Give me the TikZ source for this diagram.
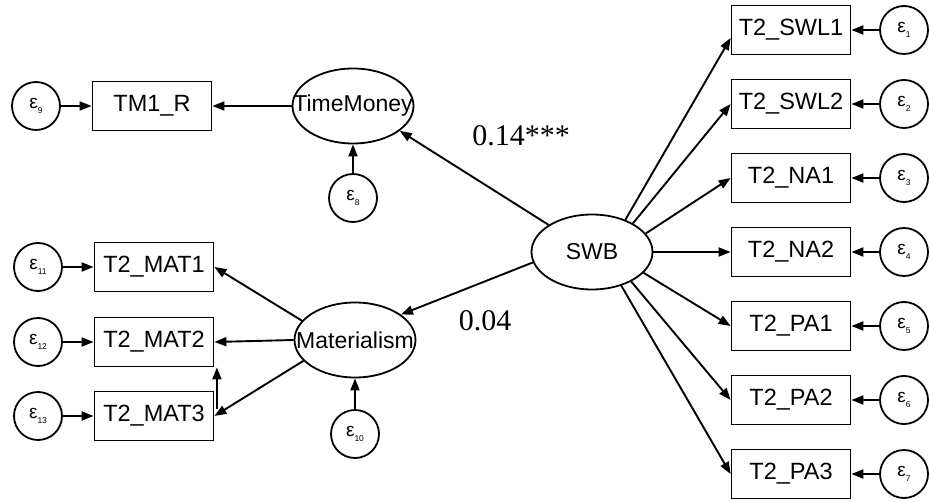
\documentclass[tikz,border=0pt]{standalone}
\usepackage{fontspec}
\setmainfont{Liberation Sans}
\newfontfamily\coeffont{Liberation Serif}
\usetikzlibrary{arrows.meta,shapes.geometric,calc}

% error term label: epsilon with a small index
\newcommand{\errlab}[1]{{\fontsize{19}{19}\selectfont ε}\raisebox{-5pt}{\fontsize{8.5}{8.5}\selectfont #1}}

\tikzset{
  obsbox/.style={draw, rectangle, line width=1.8pt, minimum width=119pt, minimum height=49pt,
                 inner sep=0pt, font=\fontsize{23.5}{24}\selectfont},
  latent/.style={draw, ellipse, line width=1.8pt, minimum width=121pt, minimum height=75pt,
                 inner sep=0pt},
  latlab/.style={font=\fontsize{23}{24}\selectfont},
  errc/.style={draw, circle, line width=1.8pt, minimum size=48pt, inner sep=0pt},
  arr/.style={line width=1.9pt, -{Triangle[length=12pt,width=9pt]}},
  coef/.style={font=\coeffont\fontsize{30}{30}\selectfont}
}

\begin{document}
\begin{tikzpicture}[x=1pt, y=-1pt]
\useasboundingbox (0,0) rectangle (929,502);

% latent variables
\node[latent, label={[latlab]center:SWB}] (swb) at (592,252) {};
\node[latent, label={[latlab]center:TimeMoney}] (tm) at (353,106) {};
\node[latent, label={[latlab]center:Materialism}] (mat) at (355,340) {};

% indicators of SWB
\node[obsbox] (swl1) at (791,30)  {T2\_SWL1};
\node[obsbox] (swl2) at (791,104) {T2\_SWL2};
\node[obsbox] (na1)  at (791,178) {T2\_NA1};
\node[obsbox] (na2)  at (791,252) {T2\_NA2};
\node[obsbox] (pa1)  at (791,326) {T2\_PA1};
\node[obsbox] (pa2)  at (791,400) {T2\_PA2};
\node[obsbox] (pa3)  at (791,474) {T2\_PA3};

% indicators on the left
\node[obsbox] (tm1)  at (152,106) {TM1\_R};
\node[obsbox] (mat1) at (154,267) {T2\_MAT1};
\node[obsbox] (mat2) at (154,342) {T2\_MAT2};
\node[obsbox] (mat3) at (154,416) {T2\_MAT3};

% error terms
\node[errc] (e1)  at (904,30)  {\errlab{1}};
\node[errc] (e2)  at (904,104) {\errlab{2}};
\node[errc] (e3)  at (904,178) {\errlab{3}};
\node[errc] (e4)  at (904,252) {\errlab{4}};
\node[errc] (e5)  at (904,326) {\errlab{5}};
\node[errc] (e6)  at (904,400) {\errlab{6}};
\node[errc] (e7)  at (904,474) {\errlab{7}};
\node[errc] (e8)  at (353,198) {\errlab{8}};
\node[errc] (e9)  at (36,106)  {\errlab{9}};
\node[errc] (e10) at (355,434) {\errlab{10}};
\node[errc] (e11) at (38,267)  {\errlab{11}};
\node[errc] (e12) at (38,342)  {\errlab{12}};
\node[errc] (e13) at (38,416)  {\errlab{13}};

% structural paths
\draw[arr] (swb.148) -- (tm.332);
\draw[arr] (swb.190) -- (mat.29);

% SWB loadings
\draw[arr] (swb.44)  -- ([yshift=-8pt]swl1.west);
\draw[arr] (swb.35)  -- (swl2.west);
\draw[arr] (swb.19)  -- (na1.west);
\draw[arr] (swb.east) -- (na2.west);
\draw[arr] (swb.-22) -- (pa1.west);
\draw[arr] (swb.-37) -- (pa2.west);
\draw[arr] (swb.-49) -- (pa3.west);

% left loadings
\draw[arr] (tm.west)  -- (tm1.east);
\draw[arr] (mat.160)  -- (mat1.east);
\draw[arr] (mat.west) -- (mat2.east);
\draw[arr] (mat.202)  -- (mat3.east);
\draw[arr] ([xshift=2.5pt,yshift=-18pt]mat3.north east) -- ([xshift=2.5pt]mat2.south east);

% error paths
\foreach \e/\b in {e1/swl1, e2/swl2, e3/na1, e4/na2, e5/pa1, e6/pa2, e7/pa3,
                   e9/tm1, e11/mat1, e12/mat2, e13/mat3}
  \draw[arr] (\e) -- (\b);
\draw[arr] (e8) -- (tm);
\draw[arr] (e10) -- (mat);

% coefficients
\node[coef] (c1) at (521,136) {0.14***};
\node[coef] (c2) at (485,321) {0.04};
\end{tikzpicture}
\end{document}
